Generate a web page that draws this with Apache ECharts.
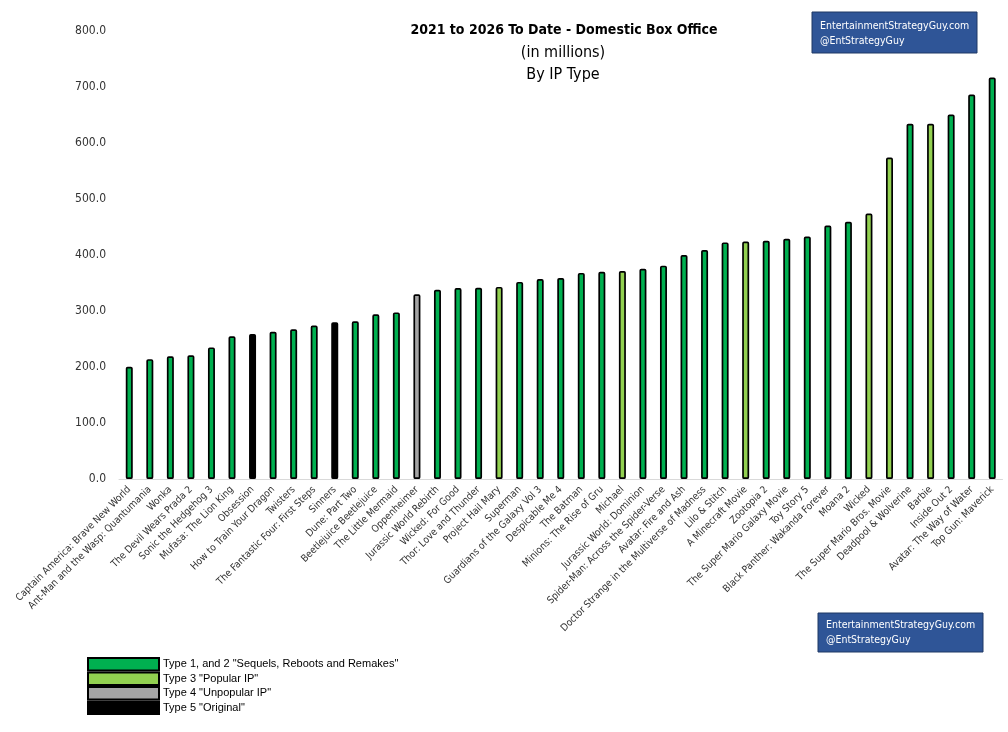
<!DOCTYPE html>
<html>
<head>
<meta charset="utf-8">
<script src="https://cdn.jsdelivr.net/npm/echarts@6/dist/echarts.min.js"></script>
<style>
html,body{margin:0;padding:0;background:#fff;}
#c{width:1008px;height:732px;}
</style>
</head>
<body>
<div id="c"></div>
<script>
var movies = [
"Captain America: Brave New World","Ant-Man and the Wasp: Quantumania","Wonka","The Devil Wears Prada 2",
"Sonic the Hedgehog 3","Mufasa: The Lion King","Obsession","How to Train Your Dragon","Twisters",
"The Fantastic Four: First Steps","Sinners","Dune: Part Two","Beetlejuice Beetlejuice","The Little Mermaid",
"Oppenheimer","Jurassic World Rebirth","Wicked: For Good","Thor: Love and Thunder","Project Hail Mary",
"Superman","Guardians of the Galaxy Vol 3","Despicable Me 4","The Batman","Minions: The Rise of Gru",
"Michael","Jurassic World: Dominion","Spider-Man: Across the Spider-Verse","Avatar: Fire and Ash",
"Doctor Strange in the Multiverse of Madness","Lilo & Stitch","A Minecraft Movie","Zootopia 2",
"The Super Mario Galaxy Movie","Toy Story 5","Black Panther: Wakanda Forever","Moana 2","Wicked",
"The Super Mario Bros. Movie","Deadpool & Wolverine","Barbie","Inside Out 2","Avatar: The Way of Water",
"Top Gun: Maverick"
];
var boxOffice = [
200.5,214,219,221,235,255,259,263,267.5,274,280,281.5,294,297.5,330,338,341,341.5,343,352,357,359,368,370,
371.5,375.5,381,400,409,422.5,424,425.5,429,433,452.5,459.5,474,574,634.5,634.5,651,686.5,717
];
// 0 = Type 1,2 ; 1 = Type 3 ; 2 = Type 4 ; 3 = Type 5
var ipType = [
0,0,0,0,0,0,3,0,0,0,3,0,0,0,2,0,0,0,1,0,0,0,0,0,1,0,0,0,0,0,1,0,0,0,0,0,1,1,0,1,0,0,0
];
var typeNames = ['Type 1, and 2 "Sequels, Reboots and Remakes"','Type 3 "Popular IP"','Type 4 "Unpopular IP"','Type 5 "Original"'];
var typeColors = ['#00B050','#92D050','#A5A5A5','#000000'];
var yTicks = [0,100,200,300,400,500,600,700,800];

var series = typeNames.map(function(name, t){
  return {
    name: name,
    type: 'bar',
    stack: 'all',
    barWidth: 7,
    itemStyle: {color: typeColors[t], borderColor: '#000', borderWidth: 1.7, borderRadius: 1},
    emphasis: {disabled: true},
    data: boxOffice.map(function(v,i){ return ipType[i] === t ? v : null; })
  };
});

var chart = echarts.init(document.getElementById('c'));
var narrow = '"DejaVu Sans Condensed", "Liberation Sans Narrow", sans-serif';
chart.setOption({
  animation: false,
  grid: {left: 119, right: 5.5, top: 31, bottom: 253, containLabel: false},
  legend: {
    orient: 'vertical', left: 87, top: 657, itemWidth: 71, itemHeight: 12.5, itemGap: 0, padding: 0,
    icon: 'rect', selectedMode: false,
    textStyle: {fontFamily: '"Liberation Sans", Arial, sans-serif', fontSize: 11, lineHeight: 12, color: '#000', padding: [0,0,0,-1]},
    data: typeNames
  },
  xAxis: {
    type: 'category', data: movies,
    axisLine: {lineStyle: {color: '#D9D9D9', width: 1}},
    axisTick: {show: false},
    axisLabel: {interval: 0, rotate: 45, fontFamily: narrow, fontSize: 10, color: '#333333', margin: 9}
  },
  yAxis: {
    type: 'value', min: 0, max: 800, interval: 100,
    axisLine: {show: false}, axisTick: {show: false}, splitLine: {show: false},
    axisLabel: {fontFamily: narrow, fontSize: 12, color: '#333333', margin: 13,
      formatter: function(v){ return v.toFixed(1); }}
  },
  series: series,
  graphic: [
    {type:'text', style:{x:564, y:23, text:'2021 to 2026 To Date - Domestic Box Office', font:'bold 14px ' + narrow, fill:'#000', textAlign:'center'}},
    {type:'text', style:{x:563, y:45, text:'(in millions)', font:'16px ' + narrow, fill:'#000', textAlign:'center'}},
    {type:'text', style:{x:563, y:67, text:'By IP Type', font:'16px ' + narrow, fill:'#000', textAlign:'center'}},
    {type:'rect', shape:{x:812, y:12, width:165, height:41}, style:{fill:'#2F5597', stroke:'#1F3864', lineWidth:1}},
    {type:'text', style:{x:820, y:19, text:'EntertainmentStrategyGuy.com\n@EntStrategyGuy', font:'10.5px ' + narrow, lineHeight:15, fill:'#fff'}},
    {type:'rect', shape:{x:818, y:613, width:165, height:39}, style:{fill:'#2F5597', stroke:'#1F3864', lineWidth:1}},
    {type:'text', style:{x:826, y:618, text:'EntertainmentStrategyGuy.com\n@EntStrategyGuy', font:'10.5px ' + narrow, lineHeight:15, fill:'#fff'}}
  ]
});
</script>
</body>
</html>
